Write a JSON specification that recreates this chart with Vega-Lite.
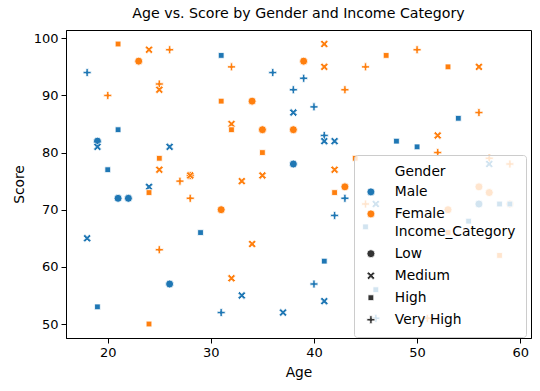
{
  "$schema": "https://vega.github.io/schema/vega-lite/v6.json",
  "width": 465,
  "height": 308,
  "autosize": {"type": "none"},
  "padding": {"left": 66, "top": 30, "right": 9, "bottom": 53},
  "background": "white",
  "title": {"text": "Age vs. Score by Gender and Income Category", "fontSize": 14.2, "fontWeight": "normal", "font": "DejaVu Sans", "color": "black", "anchor": "middle", "offset": 9},
  "config": {
    "font": "DejaVu Sans",
    "view": {"stroke": "black", "strokeWidth": 1},
    "axis": {"grid": false, "domainColor": "black", "tickColor": "black", "labelColor": "black", "titleColor": "black", "labelFont": "DejaVu Sans", "titleFont": "DejaVu Sans", "labelFontSize": 13, "titleFontSize": 13.8, "titleFontWeight": "normal", "tickSize": 5, "labelPadding": 3}
  },
  "data": {"values": [
    {"Gender": "Female", "Income_Category": "High", "Age": 21, "Score": 99},
    {"Gender": "Female", "Income_Category": "Medium", "Age": 24, "Score": 98},
    {"Gender": "Female", "Income_Category": "Very High", "Age": 26, "Score": 98},
    {"Gender": "Female", "Income_Category": "Low", "Age": 23, "Score": 96},
    {"Gender": "Male", "Income_Category": "Very High", "Age": 18, "Score": 94},
    {"Gender": "Female", "Income_Category": "Very High", "Age": 25, "Score": 92},
    {"Gender": "Female", "Income_Category": "Medium", "Age": 25, "Score": 91},
    {"Gender": "Female", "Income_Category": "Very High", "Age": 20, "Score": 90},
    {"Gender": "Male", "Income_Category": "High", "Age": 21, "Score": 84},
    {"Gender": "Male", "Income_Category": "High", "Age": 31, "Score": 97},
    {"Gender": "Female", "Income_Category": "Very High", "Age": 32, "Score": 95},
    {"Gender": "Male", "Income_Category": "Very High", "Age": 36, "Score": 94},
    {"Gender": "Female", "Income_Category": "High", "Age": 31, "Score": 89},
    {"Gender": "Female", "Income_Category": "Low", "Age": 34, "Score": 89},
    {"Gender": "Female", "Income_Category": "Medium", "Age": 32, "Score": 85},
    {"Gender": "Female", "Income_Category": "High", "Age": 32, "Score": 84},
    {"Gender": "Female", "Income_Category": "Low", "Age": 35, "Score": 84},
    {"Gender": "Female", "Income_Category": "Medium", "Age": 41, "Score": 99},
    {"Gender": "Female", "Income_Category": "Low", "Age": 39, "Score": 96},
    {"Gender": "Female", "Income_Category": "Medium", "Age": 41, "Score": 95},
    {"Gender": "Female", "Income_Category": "High", "Age": 47, "Score": 97},
    {"Gender": "Female", "Income_Category": "Very High", "Age": 45, "Score": 95},
    {"Gender": "Male", "Income_Category": "Very High", "Age": 39, "Score": 93},
    {"Gender": "Male", "Income_Category": "Very High", "Age": 38, "Score": 91},
    {"Gender": "Female", "Income_Category": "Very High", "Age": 43, "Score": 91},
    {"Gender": "Male", "Income_Category": "Very High", "Age": 40, "Score": 88},
    {"Gender": "Male", "Income_Category": "Medium", "Age": 38, "Score": 87},
    {"Gender": "Female", "Income_Category": "Low", "Age": 38, "Score": 84},
    {"Gender": "Male", "Income_Category": "Very High", "Age": 41, "Score": 83},
    {"Gender": "Female", "Income_Category": "Very High", "Age": 50, "Score": 98},
    {"Gender": "Female", "Income_Category": "High", "Age": 53, "Score": 95},
    {"Gender": "Female", "Income_Category": "Medium", "Age": 56, "Score": 95},
    {"Gender": "Female", "Income_Category": "Very High", "Age": 56, "Score": 87},
    {"Gender": "Male", "Income_Category": "High", "Age": 54, "Score": 86},
    {"Gender": "Female", "Income_Category": "Medium", "Age": 52, "Score": 83},
    {"Gender": "Male", "Income_Category": "Low", "Age": 19, "Score": 82},
    {"Gender": "Male", "Income_Category": "Medium", "Age": 19, "Score": 81},
    {"Gender": "Male", "Income_Category": "Medium", "Age": 26, "Score": 81},
    {"Gender": "Female", "Income_Category": "High", "Age": 25, "Score": 79},
    {"Gender": "Male", "Income_Category": "High", "Age": 20, "Score": 77},
    {"Gender": "Female", "Income_Category": "Medium", "Age": 25, "Score": 77},
    {"Gender": "Female", "Income_Category": "Very High", "Age": 27, "Score": 75},
    {"Gender": "Male", "Income_Category": "Medium", "Age": 24, "Score": 74},
    {"Gender": "Female", "Income_Category": "High", "Age": 24, "Score": 73},
    {"Gender": "Male", "Income_Category": "Low", "Age": 21, "Score": 72},
    {"Gender": "Male", "Income_Category": "Low", "Age": 22, "Score": 72},
    {"Gender": "Female", "Income_Category": "High", "Age": 35, "Score": 80},
    {"Gender": "Female", "Income_Category": "Low", "Age": 28, "Score": 76},
    {"Gender": "Female", "Income_Category": "Medium", "Age": 28, "Score": 76},
    {"Gender": "Female", "Income_Category": "Medium", "Age": 33, "Score": 75},
    {"Gender": "Female", "Income_Category": "Medium", "Age": 35, "Score": 76},
    {"Gender": "Female", "Income_Category": "Very High", "Age": 28, "Score": 72},
    {"Gender": "Female", "Income_Category": "Low", "Age": 31, "Score": 70},
    {"Gender": "Male", "Income_Category": "High", "Age": 29, "Score": 66},
    {"Gender": "Male", "Income_Category": "Medium", "Age": 41, "Score": 82},
    {"Gender": "Male", "Income_Category": "Medium", "Age": 42, "Score": 82},
    {"Gender": "Male", "Income_Category": "High", "Age": 48, "Score": 82},
    {"Gender": "Male", "Income_Category": "Low", "Age": 38, "Score": 78},
    {"Gender": "Female", "Income_Category": "Medium", "Age": 42, "Score": 77},
    {"Gender": "Female", "Income_Category": "High", "Age": 44, "Score": 79},
    {"Gender": "Female", "Income_Category": "Low", "Age": 43, "Score": 74},
    {"Gender": "Female", "Income_Category": "High", "Age": 42, "Score": 73},
    {"Gender": "Male", "Income_Category": "Very High", "Age": 43, "Score": 72},
    {"Gender": "Male", "Income_Category": "Very High", "Age": 42, "Score": 69},
    {"Gender": "Female", "Income_Category": "Very High", "Age": 45, "Score": 71},
    {"Gender": "Male", "Income_Category": "Medium", "Age": 46, "Score": 71},
    {"Gender": "Male", "Income_Category": "High", "Age": 45, "Score": 67},
    {"Gender": "Male", "Income_Category": "High", "Age": 50, "Score": 81},
    {"Gender": "Female", "Income_Category": "Very High", "Age": 52, "Score": 80},
    {"Gender": "Female", "Income_Category": "Very High", "Age": 57, "Score": 79},
    {"Gender": "Male", "Income_Category": "Medium", "Age": 57, "Score": 78},
    {"Gender": "Female", "Income_Category": "Very High", "Age": 59, "Score": 78},
    {"Gender": "Female", "Income_Category": "Low", "Age": 56, "Score": 74},
    {"Gender": "Female", "Income_Category": "Low", "Age": 57, "Score": 73},
    {"Gender": "Male", "Income_Category": "Low", "Age": 56, "Score": 71},
    {"Gender": "Male", "Income_Category": "High", "Age": 58, "Score": 71},
    {"Gender": "Female", "Income_Category": "Low", "Age": 59, "Score": 71},
    {"Gender": "Male", "Income_Category": "High", "Age": 59, "Score": 71},
    {"Gender": "Female", "Income_Category": "Low", "Age": 53, "Score": 70},
    {"Gender": "Male", "Income_Category": "High", "Age": 55, "Score": 68},
    {"Gender": "Female", "Income_Category": "High", "Age": 53, "Score": 66},
    {"Gender": "Female", "Income_Category": "High", "Age": 58, "Score": 62},
    {"Gender": "Female", "Income_Category": "Very High", "Age": 51, "Score": 51},
    {"Gender": "Male", "Income_Category": "High", "Age": 41, "Score": 61},
    {"Gender": "Male", "Income_Category": "Very High", "Age": 40, "Score": 57},
    {"Gender": "Male", "Income_Category": "Medium", "Age": 41, "Score": 54},
    {"Gender": "Male", "Income_Category": "Medium", "Age": 37, "Score": 52},
    {"Gender": "Male", "Income_Category": "High", "Age": 46, "Score": 56},
    {"Gender": "Male", "Income_Category": "Very High", "Age": 46, "Score": 51},
    {"Gender": "Male", "Income_Category": "Medium", "Age": 18, "Score": 65},
    {"Gender": "Female", "Income_Category": "Very High", "Age": 25, "Score": 63},
    {"Gender": "Male", "Income_Category": "Low", "Age": 26, "Score": 57},
    {"Gender": "Male", "Income_Category": "High", "Age": 19, "Score": 53},
    {"Gender": "Female", "Income_Category": "High", "Age": 24, "Score": 50},
    {"Gender": "Female", "Income_Category": "Medium", "Age": 34, "Score": 64},
    {"Gender": "Female", "Income_Category": "Medium", "Age": 32, "Score": 58},
    {"Gender": "Male", "Income_Category": "Medium", "Age": 33, "Score": 55},
    {"Gender": "Male", "Income_Category": "Very High", "Age": 31, "Score": 52}
  ]},
  "mark": {"type": "point", "filled": true, "opacity": 1, "size": 64, "stroke": "white", "strokeWidth": 0.8},
  "encoding": {
    "x": {"field": "Age", "type": "quantitative", "scale": {"domain": [15.95, 61.05], "nice": false, "zero": false}, "axis": {"values": [20, 30, 40, 50, 60], "format": "d", "titlePadding": 6}},
    "y": {"field": "Score", "type": "quantitative", "scale": {"domain": [47.55, 101.45], "nice": false, "zero": false}, "axis": {"values": [50, 60, 70, 80, 90, 100], "format": "d", "titlePadding": 7}},
    "color": {"field": "Gender", "type": "nominal", "scale": {"domain": ["Male", "Female"], "range": ["#1f77b4", "#ff7f0e"]},
      "legend": {"title": null, "orient": "none", "legendX": 288, "legendY": 145, "padding": 10, "rowPadding": 7, "zindex": 1, "symbolType": "circle", "symbolSize": 64, "symbolStrokeColor": "white", "symbolStrokeWidth": 0.8, "labelFontSize": 13.8, "labelFont": "DejaVu Sans", "labelColor": "black", "labelOffset": 17}},
    "shape": {"field": "Income_Category", "type": "nominal", "scale": {"domain": ["Low", "Medium", "High", "Very High"], "range": ["circle", "M-1,-0.55L-0.55,-1L0,-0.45L0.55,-1L1,-0.55L0.45,0L1,0.55L0.55,1L0,0.45L-0.55,1L-1,0.55L-0.45,0Z", "M-0.72,-0.72L0.72,-0.72L0.72,0.72L-0.72,0.72Z", "M-1,-0.3L-0.3,-0.3L-0.3,-1L0.3,-1L0.3,-0.3L1,-0.3L1,0.3L0.3,0.3L0.3,1L-0.3,1L-0.3,0.3L-1,0.3Z"]},
      "legend": {"title": ["\u200b\u00a0\u00a0\u00a0\u00a0\u00a0\u00a0\u00a0Gender", "\u200b", "\u200b", "\u200b\u00a0\u00a0\u00a0\u00a0\u00a0\u00a0\u00a0Income_Category"], "orient": "none", "legendX": 288, "legendY": 125, "padding": 10, "titlePadding": 8, "titleLineHeight": 20, "titleFontSize": 13.8, "titleFontWeight": "normal", "titleFont": "DejaVu Sans", "titleColor": "black", "titleLimit": 300, "rowPadding": 7, "fillColor": "rgba(255,255,255,0.8)", "strokeColor": "#cccccc", "cornerRadius": 3, "symbolFillColor": "#333333", "symbolSize": 64, "symbolStrokeColor": "white", "symbolStrokeWidth": 0.8, "labelFontSize": 13.8, "labelFont": "DejaVu Sans", "labelColor": "black", "labelOffset": 17}}
  }
}
